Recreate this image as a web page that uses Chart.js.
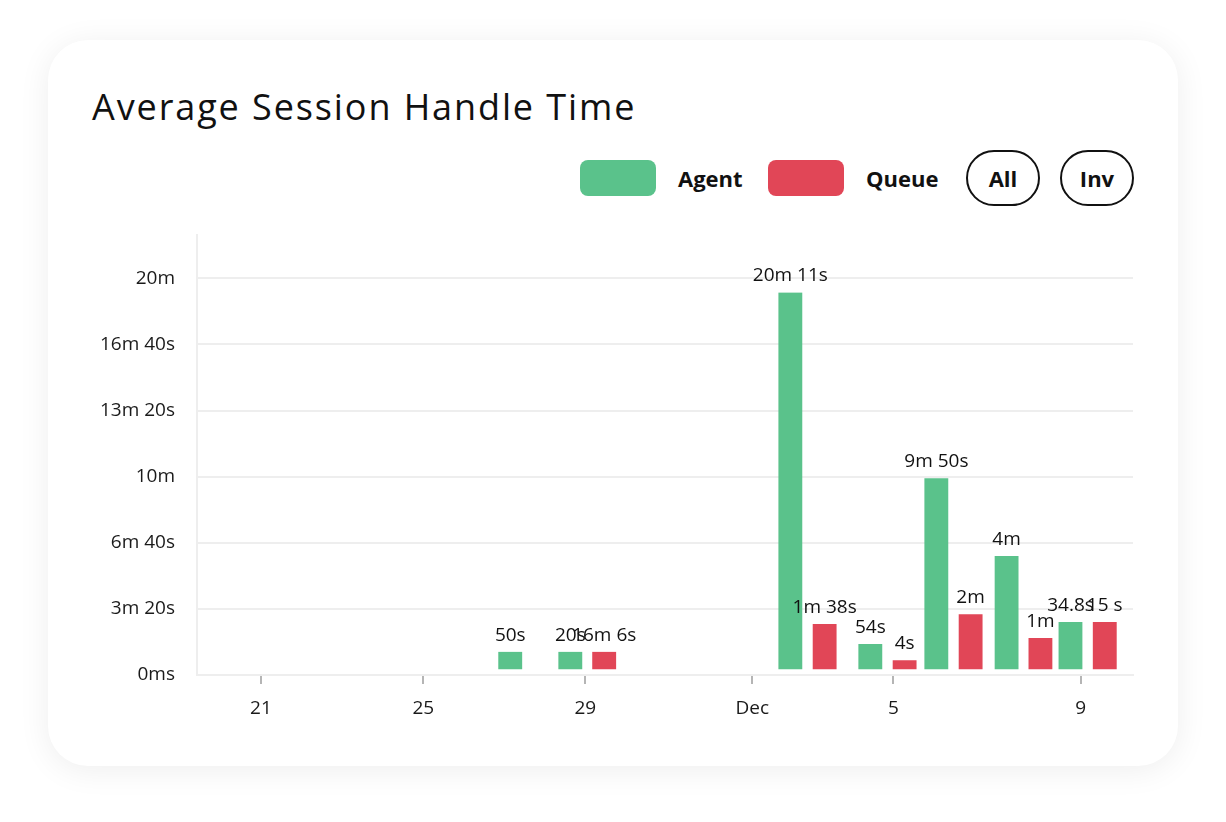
<!DOCTYPE html>
<html>
<head>
<meta charset="utf-8">
<script src="https://cdn.jsdelivr.net/npm/chart.js@4"></script>
<style>
  html, body { margin: 0; padding: 0; background: #fff; }
  body { width: 1226px; height: 822px; position: relative; overflow: hidden; font-family: "Open Sans", Lato, sans-serif; }
  .card {
    position: absolute; left: 48px; top: 40px; width: 1130px; height: 726px;
    background: #fff; border-radius: 40px;
    box-shadow: 0 4px 32px rgba(0, 0, 0, 0.07);
  }
  h1 {
    position: absolute; left: 92px; top: 82px; margin: 0;
    font-size: 36px; font-weight: 400; letter-spacing: 1.9px; color: #111;
  }
  .swatch { position: absolute; top: 160px; width: 76px; height: 36px; border-radius: 8px; }
  .lbl { position: absolute; top: 162px; font-size: 22px; font-weight: 700; color: #111; line-height: 32px; }
  .pill {
    position: absolute; top: 150px;
    box-sizing: border-box; width: 74px; height: 56px; border: 2px solid #111; border-radius: 28px;
    display: flex; align-items: center; justify-content: center;
    font-size: 22px; font-weight: 700; color: #111;
  }
  .wrap { position: absolute; left: 100px; top: 202px; width: 1050px; height: 533px; }
</style>
</head>
<body>
<div class="card"></div>
<h1>Average Session Handle Time</h1>
<div class="swatch" style="left:580px;background:#5AC28B"></div><span class="lbl" style="left:678px">Agent</span>
<div class="swatch" style="left:768px;background:#E14657"></div><span class="lbl" style="left:866px">Queue</span>
<div class="pill" style="left:966px">All</div>
<div class="pill" style="left:1060px">Inv</div>
<div class="wrap"><canvas id="graficoSesion"></canvas></div>
<script>
// posiciones en el eje x (una unidad = un hueco de barra)
const tickSlots = [1.83, 6.48, 11.12, 15.9, 19.94, 25.3];
const tickText = ['21', '25', '29', 'Dec', '5', '9'];

// Agent (segundos)
const agentSlots = [8.97, 10.69, 16.99, 19.28, 21.17, 23.18, 25.01];
const agentSecs = [70, 70, 1157, 94, 595, 360, 160];
const agentText = ['50s', '20s', '20m 11s', '54s', '9m 50s', '4m', '34.8s'];

// Queue (segundos)
const queueSlots = [11.66, 17.97, 20.26, 22.15, 24.15, 25.99];
const queueSecs = [70, 154, 45, 184, 112, 160];
const queueText = ['16m 6s', '1m 38s', '4s', '2m', '1m', '15 s'];

const yTicks = [0, 200, 400, 600, 800, 1000, 1200];

function formatoDuracion(s) {
    if (s === 0) return '0ms';
    const m = Math.floor(s / 60), r = s % 60;
    if (m && r) return m + 'm ' + r + 's';
    return m ? m + 'm' : r + 's';
}

const puntos = (xs, ys) => xs.map((x, i) => ({ x: x, y: ys[i] }));

// etiquetas encima de cada barra
const etiquetas = {
    id: 'etiquetas',
    afterDatasetsDraw(chart) {
        const ctx = chart.ctx;
        ctx.save();
        ctx.font = '19px "Open Sans", sans-serif';
        ctx.fillStyle = '#111';
        ctx.textAlign = 'center';
        ctx.textBaseline = 'bottom';
        chart.data.datasets.forEach((ds, i) => {
            chart.getDatasetMeta(i).data.forEach((bar, j) => {
                ctx.fillText(ds.textos[j], bar.x, bar.y - 7);
            });
        });
        ctx.restore();
    }
};

const barraBase = {
    grouped: false,
    barThickness: 24,
    borderSkipped: false,
    borderWidth: { top: 0, left: 0, right: 0, bottom: 5 },
    borderColor: 'rgba(0,0,0,0)'
};

new Chart(document.getElementById('graficoSesion'), {
    type: 'bar',
    data: {
        datasets: [
            { ...barraBase, label: 'Agent', data: puntos(agentSlots, agentSecs), textos: agentText, backgroundColor: '#5AC28B' },
            { ...barraBase, label: 'Queue', data: puntos(queueSlots, queueSecs), textos: queueText, backgroundColor: '#E14657' }
        ]
    },
    plugins: [etiquetas],
    options: {
        responsive: true,
        maintainAspectRatio: false,
        animation: false,
        layout: { padding: { top: 10, right: 17, left: 0, bottom: 0 } },
        plugins: { legend: { display: false }, tooltip: { enabled: false } },
        scales: {
            x: {
                type: 'linear', min: 0, max: 26.8, offset: false,
                afterBuildTicks: (s) => { s.ticks = tickSlots.map(v => ({ value: v })); },
                afterFit: (s) => { s.height = 60; },
                ticks: {
                    padding: 13, color: '#1a1a1a', font: { family: 'Open Sans', size: 19 },
                    maxRotation: 0, autoSkip: false,
                    callback: (v) => tickText[tickSlots.indexOf(v)]
                },
                grid: { offset: false, drawOnChartArea: false, tickLength: 9, color: '#b5b5b5', lineWidth: 2 },
                border: { color: '#eeeeee', width: 2 }
            },
            y: {
                min: 0, max: 1330,
                afterBuildTicks: (s) => { s.ticks = yTicks.map(v => ({ value: v })); },
                afterFit: (s) => { s.width = 97; },
                ticks: {
                    padding: 22, color: '#1a1a1a', font: { family: 'Open Sans', size: 19 },
                    callback: (v) => formatoDuracion(v)
                },
                grid: { drawTicks: false, color: '#eeeeee', lineWidth: 2 },
                border: { color: '#eeeeee', width: 2 }
            }
        }
    }
});
</script>
</body>
</html>
